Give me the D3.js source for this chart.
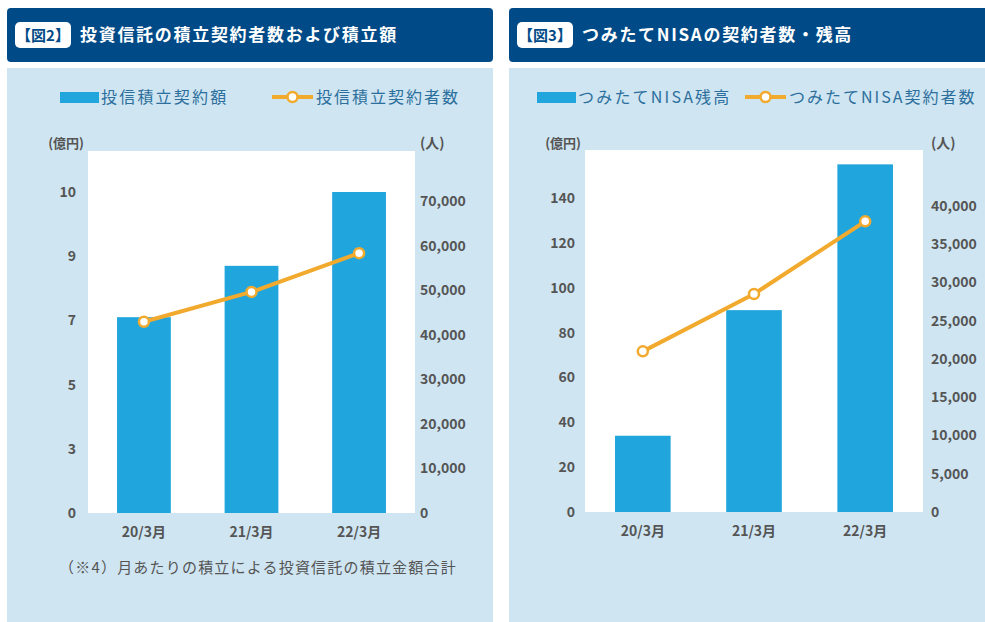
<!DOCTYPE html>
<html>
<head>
<meta charset="utf-8">
<script src="https://cdn.jsdelivr.net/npm/d3@7"></script>
<style>
  body { margin: 0; background: #fff; }
  svg { display: block; font-family: "Noto Sans CJK JP", "Noto Sans", sans-serif; }
</style>
</head>
<body>
<svg id="chart" width="985" height="622"></svg>
<script>
// ---- data ----
const categories = ["20/3月", "21/3月", "22/3月"];

// 図2: 投信積立契約額 (億円) / 投信積立契約者数 (人)
const fig2Amount = [7.1, 8.7, 10.0];
const fig2Members = [42900, 49600, 58300];
const fig2LeftTicks = [0, 3, 5, 7, 9, 10];
const fig2RightTicks = [0, 10000, 20000, 30000, 40000, 50000, 60000, 70000];

// 図3: つみたてNISA残高 (億円) / つみたてNISA契約者数 (人)
const fig3Balance = [34, 90, 155];
const fig3Members = [21000, 28500, 38000];
const fig3LeftTicks = [0, 20, 40, 60, 80, 100, 120, 140];
const fig3RightTicks = [0, 5000, 10000, 15000, 20000, 25000, 30000, 35000, 40000];

// ---- styles ----
const headerColor = "#004b87";
const bodyColor = "#cfe5f2";
const barColor = "#20a5dd";
const lineColor = "#f2aa2e";
const labelColor = "#555";
const legendColor = "#2c6f9c";

const svg = d3.select("#chart");

function drawPanel(p) {
  // panel body + header
  svg.append("rect")
    .attr("x", p.x).attr("y", 68).attr("width", p.w).attr("height", 554)
    .attr("fill", bodyColor);
  svg.append("rect")
    .attr("x", p.x).attr("y", 8).attr("width", p.w).attr("height", 54)
    .attr("rx", 4).attr("fill", headerColor);
  svg.append("rect")
    .attr("x", p.x + 8).attr("y", 22).attr("width", 56).attr("height", 26)
    .attr("rx", 5).attr("fill", "#fff");
  svg.append("text")
    .attr("x", p.x + 36).attr("y", 41)
    .attr("text-anchor", "middle")
    .attr("font-size", 15).attr("font-weight", "bold")
    .attr("fill", headerColor)
    .text(p.badge);
  svg.append("text")
    .attr("x", p.x + 73).attr("y", 41)
    .attr("font-size", 17).attr("font-weight", "bold")
    .attr("letter-spacing", 1.7)
    .attr("fill", "#fff")
    .text(p.title);

  // legend
  const lg = svg.append("g");
  lg.append("rect")
    .attr("x", p.legend.bar).attr("y", 92).attr("width", 39).attr("height", 11)
    .attr("fill", barColor);
  lg.append("text")
    .attr("x", p.legend.bar + 41).attr("y", 103)
    .attr("font-size", 16).attr("letter-spacing", 2.2)
    .attr("fill", legendColor)
    .text(p.barName);
  lg.append("line")
    .attr("x1", p.legend.line).attr("x2", p.legend.line + 41)
    .attr("y1", 97).attr("y2", 97)
    .attr("stroke", lineColor).attr("stroke-width", 4);
  lg.append("circle")
    .attr("cx", p.legend.line + 20.5).attr("cy", 97).attr("r", 5)
    .attr("fill", "#fff").attr("stroke", lineColor).attr("stroke-width", 2.5);
  lg.append("text")
    .attr("x", p.legend.line + 44).attr("y", 103)
    .attr("font-size", 16).attr("letter-spacing", 2)
    .attr("fill", legendColor)
    .text(p.lineName);

  // plot area
  const pl = p.plot;
  svg.append("rect")
    .attr("x", pl.l).attr("y", pl.t).attr("width", pl.r - pl.l).attr("height", pl.b - pl.t)
    .attr("fill", "#fff");

  const x = d3.scaleBand()
    .domain(categories)
    .range([pl.l, pl.r])
    .paddingInner(0.5)
    .paddingOuter(0.27);

  const g = svg.append("g");
  g.selectAll("rect.bar")
    .data(p.bars)
    .join("rect")
      .attr("class", "bar")
      .attr("x", (d, i) => x(categories[i]))
      .attr("width", x.bandwidth())
      .attr("y", d => p.yLeft(d))
      .attr("height", d => p.yLeft(0) - p.yLeft(d))
      .attr("fill", barColor);

  const line = d3.line()
    .x((d, i) => x(categories[i]) + x.bandwidth() / 2)
    .y(d => p.yRight(d));

  g.append("path")
    .datum(p.members)
    .attr("d", line)
    .attr("fill", "none")
    .attr("stroke", lineColor)
    .attr("stroke-width", 4)
    .attr("stroke-linejoin", "round");

  g.selectAll("circle.pt")
    .data(p.members)
    .join("circle")
      .attr("class", "pt")
      .attr("cx", (d, i) => x(categories[i]) + x.bandwidth() / 2)
      .attr("cy", d => p.yRight(d))
      .attr("r", 5)
      .attr("fill", "#fff")
      .attr("stroke", lineColor)
      .attr("stroke-width", 2.5);

  // axes
  const styleAxis = a => {
    a.select(".domain").remove();
    a.selectAll("text")
      .attr("font-size", 14).attr("font-weight", "bold")
      .attr("fill", labelColor)
      .attr("font-family", "\"Noto Sans CJK JP\", \"Noto Sans\", sans-serif");
  };

  svg.append("g")
    .attr("transform", `translate(${pl.l},0)`)
    .call(d3.axisLeft(p.yLeft).tickValues(p.leftTicks).tickSize(0).tickPadding(p.padL))
    .call(styleAxis);

  svg.append("g")
    .attr("transform", `translate(${pl.r},0)`)
    .call(d3.axisRight(p.yRight).tickValues(p.rightTicks).tickSize(0)
      .tickPadding(p.padR).tickFormat(d3.format(",")))
    .call(styleAxis);

  svg.append("g")
    .attr("transform", `translate(0,${pl.b})`)
    .call(d3.axisBottom(x).tickSize(0).tickPadding(14))
    .call(styleAxis);

  // unit labels
  svg.append("text")
    .attr("x", pl.l - 4).attr("y", 148)
    .attr("text-anchor", "end")
    .attr("font-size", 13).attr("font-weight", "bold")
    .attr("fill", labelColor)
    .text("(億円)");
  svg.append("text")
    .attr("x", pl.r + p.padR).attr("y", 148)
    .attr("font-size", 14).attr("font-weight", "bold")
    .attr("fill", labelColor)
    .text("(人)");

  if (p.note) {
    svg.append("text")
      .attr("x", p.x + 52).attr("y", 573)
      .attr("font-size", 15).attr("letter-spacing", 1.2)
      .attr("fill", labelColor)
      .text(p.note);
  }
}

// 図2
const plot2 = { l: 88, r: 415, t: 151, b: 513 };
drawPanel({
  x: 7, w: 486,
  badge: "【図2】",
  title: "投資信託の積立契約者数および積立額",
  barName: "投信積立契約額",
  lineName: "投信積立契約者数",
  legend: { bar: 60, line: 272 },
  plot: plot2,
  bars: fig2Amount,
  members: fig2Members,
  leftTicks: fig2LeftTicks,
  rightTicks: fig2RightTicks,
  // labels on the left axis are evenly spaced though their values are not
  yLeft: d3.scaleLinear()
    .domain(fig2LeftTicks)
    .range(fig2LeftTicks.map((d, i) => plot2.b - i * (plot2.b - 192) / (fig2LeftTicks.length - 1))),
  yRight: d3.scaleLinear().domain([0, 70000]).range([plot2.b, 201]),
  padL: 12, padR: 5,
  note: "（※4）月あたりの積立による投資信託の積立金額合計"
});

// 図3
const plot3 = { l: 585, r: 923, t: 150, b: 512 };
drawPanel({
  x: 509, w: 500,
  badge: "【図3】",
  title: "つみたてNISAの契約者数・残高",
  barName: "つみたてNISA残高",
  lineName: "つみたてNISA契約者数",
  legend: { bar: 537, line: 745 },
  plot: plot3,
  bars: fig3Balance,
  members: fig3Members,
  leftTicks: fig3LeftTicks,
  rightTicks: fig3RightTicks,
  yLeft: d3.scaleLinear().domain([0, 140]).range([plot3.b, 198]),
  yRight: d3.scaleLinear().domain([0, 40000]).range([plot3.b, 206]),
  padL: 10, padR: 8,
  note: null
});
</script>
</body>
</html>
